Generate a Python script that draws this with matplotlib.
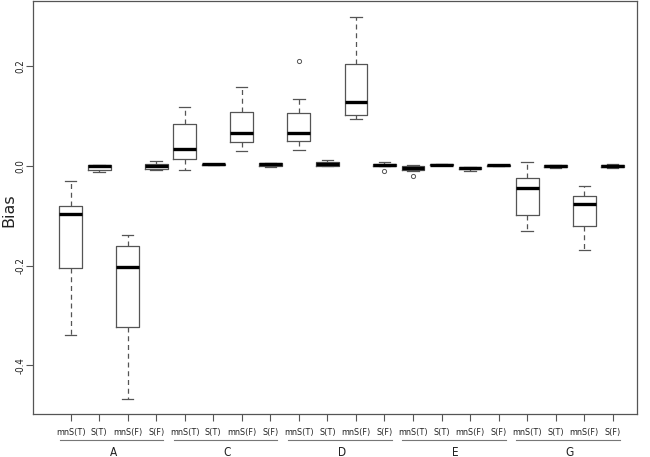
import matplotlib
matplotlib.use("Agg")
import matplotlib.pyplot as plt
import matplotlib.transforms as mtransforms

groups = ["A", "C", "D", "E", "G"]
methods = ["mnS(T)", "S(T)", "mnS(F)", "S(F)"]

# per box: whisker low, q1, median, q3, whisker high
whislo = [-0.339, -0.012, -0.468, -0.008,
          -0.009, 0.001, 0.029, -0.002,
          0.031, 0.000, 0.093, -0.001,
          -0.011, 0.001, -0.011, 0.000,
          -0.131, -0.004, -0.168, -0.004]
q1 = [-0.205, -0.008, -0.322, -0.006,
      0.014, 0.002, 0.047, -0.001,
      0.050, 0.000, 0.102, -0.001,
      -0.009, 0.002, -0.007, 0.000,
      -0.099, -0.003, -0.121, -0.003]
med = [-0.096, -0.001, -0.203, 0.000,
       0.033, 0.003, 0.065, 0.003,
       0.066, 0.003, 0.128, 0.001,
       -0.005, 0.002, -0.005, 0.001,
       -0.044, -0.001, -0.076, -0.001]
q3 = [-0.080, 0.001, -0.160, 0.003,
      0.083, 0.004, 0.108, 0.005,
      0.106, 0.007, 0.205, 0.003,
      0.000, 0.003, -0.003, 0.001,
      -0.024, 0.002, -0.061, 0.001]
whishi = [-0.031, 0.002, -0.138, 0.010,
          0.117, 0.004, 0.158, 0.006,
          0.134, 0.011, 0.299, 0.007,
          0.001, 0.003, -0.002, 0.001,
          0.008, 0.002, -0.041, 0.004]
fliers = [[], [], [], [],
          [], [], [], [],
          [0.210], [], [], [-0.010],
          [-0.020], [], [], [],
          [], [], [], []]

yticks = [0.2, 0.0, -0.2, -0.4]
ytick_labels = ["0.2", "0.0", "-0.2", "-0.4"]

narrow = dict(family="DejaVu Sans", stretch="condensed")

stats = []
for i in range(len(med)):
    stats.append(dict(whislo=whislo[i], q1=q1[i], med=med[i], q3=q3[i],
                      whishi=whishi[i], fliers=fliers[i]))

fig = plt.figure(figsize=(6.5, 4.57), dpi=100)
ax = fig.add_axes([0.0515, 0.094, 0.9285, 0.904])

positions = list(range(1, len(stats) + 1))
edge = "#555555"
ax.bxp(stats, positions=positions, widths=0.8, capwidths=0.4,
       boxprops=dict(color=edge, linewidth=0.9),
       whiskerprops=dict(color=edge, linewidth=0.9, linestyle=(0, (4, 3))),
       capprops=dict(color=edge, linewidth=0.9),
       medianprops=dict(color="black", linewidth=2.4, solid_capstyle="butt"),
       flierprops=dict(marker="o", markersize=3, markerfacecolor="none",
                       markeredgecolor=edge, markeredgewidth=0.7))

ax.set_xlim(-0.3, 20.85)
ax.set_ylim(-0.4974, 0.3306)

ax.set_yticks(yticks)
ax.set_yticklabels(ytick_labels, rotation=90, va="center", fontsize=7,
                   **narrow)
ax.set_xticks(positions)
ax.set_xticklabels(methods * len(groups), fontsize=6.5, **narrow)
ax.tick_params(axis="both", direction="out", length=5, width=0.8,
               colors="#555555", labelcolor="#222222")
ax.tick_params(axis="x", pad=5)
ax.tick_params(axis="y", pad=0.5)
for s in ax.spines.values():
    s.set_color("#555555")
    s.set_linewidth(0.9)

fig.text(9 / 650, 1 - 210 / 457, "Bias", rotation=90, ha="center",
         va="center", fontsize=11.5, color="#222222")

# group lines and letters under the method labels
trans = mtransforms.blended_transform_factory(ax.transData, fig.transFigure)
for g, name in enumerate(groups):
    first = g * 4 + 1
    last = first + 3
    ax.plot([first - 0.38, last + 0.25], [1 - 440 / 457, 1 - 440 / 457],
            transform=trans, color="#777777", linewidth=0.8, clip_on=False)
    ax.text((first + last) / 2, 1 - 452 / 457, name, transform=trans,
            ha="center", va="center", fontsize=8.5, color="#222222",
            **narrow)

fig.savefig("out.png", dpi=100)
